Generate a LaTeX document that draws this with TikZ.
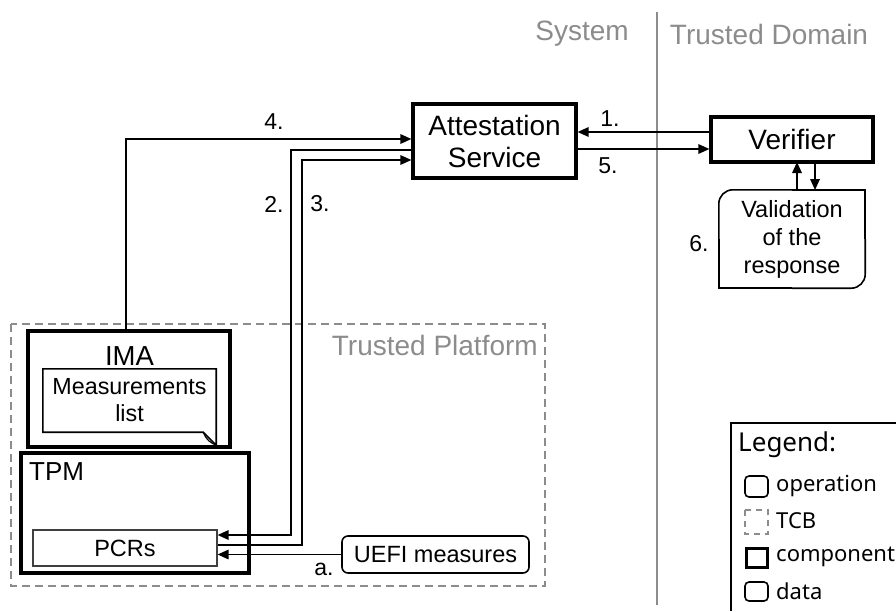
\documentclass[tikz,border=0pt]{standalone}
\usepackage{fontspec}
\setmainfont{Liberation Sans}
\newfontfamily\legendfont{Noto Sans}
\usetikzlibrary{arrows.meta,positioning}
\definecolor{dimgray}{HTML}{8C8C8C}
\tikzset{
  comp/.style={draw, line width=3.2pt, inner sep=0pt},
  thinbox/.style={draw, line width=1.6pt, inner sep=0pt},
  lbl/.style={font=\fontsize{23}{25}\selectfont, inner sep=0pt},
  flow/.style={line width=1.6pt, -{Triangle[length=11pt,width=9.5pt]}},
  region/.style={font=\fontsize{28}{30}\selectfont, text=dimgray, inner sep=0pt},
  edge/.style={line width=1.6pt},
}
\begin{document}
\begin{tikzpicture}[x=1pt,y=-1pt]
\useasboundingbox (0,0) rectangle (896,611);

% domain separator and headings
\draw[dimgray, line width=1.4pt] (657,12) -- (657,605);
\node[region] (sys) at (582,34) {System};
\node[region] (td) at (769,34) {Trusted Domain};

% trusted platform boundary
\draw[dimgray, line width=1.4pt, dash pattern=on 8pt off 5pt] (11,324) rectangle (545,586);
\node[region, anchor=north east] (tp) at (538,335) {Trusted Platform};

% attestation service
\node[comp, minimum width=163pt, minimum height=74pt, align=center,
      font=\fontsize{28}{32}\selectfont] (as) at (494.5,141) {Attestation\\Service};

% verifier
\node[comp, minimum width=162pt, minimum height=45pt,
      font=\fontsize{28}{30}\selectfont] (ver) at (792,139.5) {Verifier};

% validation of the response: rounded top-left and bottom-right corners
\node[minimum width=146pt, minimum height=98pt, inner sep=0pt, align=center,
      font=\fontsize{23.5}{28}\selectfont] (val) at (792,239) {Validation\\of the\\response};
\draw[edge, rounded corners=14pt] (val.west) -- (val.north west) -- (val.north);
\draw[edge] (val.north) -- (val.north east) -- (val.east);
\draw[edge, rounded corners=14pt] (val.east) -- (val.south east) -- (val.south);
\draw[edge] (val.south) -- (val.south west) -- (val.west);
\node[lbl] (l6) at (699,244) {6.};

% IMA component with measurement list
\node[comp, minimum width=202pt, minimum height=116pt] (ima) at (129,389) {};
\node[font=\fontsize{27.5}{30}\selectfont, inner sep=0pt] (imat) at (129.5,356) {IMA};
\node[minimum width=173pt, minimum height=63pt, inner sep=0pt, align=center,
      font=\fontsize{23.3}{27}\selectfont] (ml) at (129.5,400.5) {Measurements\\list};
\draw[edge] (ml.north west) -- (ml.north east) -- ([yshift=-13pt]ml.south east)
  -- ([xshift=-13pt]ml.south east) -- (ml.south west) -- cycle;
\draw[line width=1.2pt] ([yshift=-13pt]ml.south east) .. controls ([xshift=-6pt,yshift=-10pt]ml.south east) and ([xshift=-9pt,yshift=-9pt]ml.south east) .. ([xshift=-13pt]ml.south east);

% TPM component
\node[comp, minimum width=228pt, minimum height=120pt] (tpm) at (135,513) {};
\node[font=\fontsize{26}{28}\selectfont, inner sep=0pt, anchor=west] (tpmt) at (29,472) {TPM};
\node[draw=black!75, line width=1.2pt, minimum width=184pt, minimum height=36pt, inner sep=0pt,
      font=\fontsize{23.5}{26}\selectfont] (pcr) at (125,548) {PCRs};

% UEFI measures
\node[thinbox, rounded corners=6pt, minimum width=187pt, minimum height=37pt,
      font=\fontsize{23.5}{26}\selectfont] (uefi) at (435.5,554.5) {UEFI measures};

% connectors
\draw[flow] (ver.west |- 0,132) -- (as.east |- 0,132);
\node[lbl] (l1) at (610,119) {1.};
\draw[flow] (as.east |- 0,149) -- (ver.west |- 0,149);
\node[lbl] (l5) at (608,166) {5.};

\draw[flow] (ima.north -| 126,0) -- (126,139) -- (as.west |- 0,139);
\node[lbl] (l4) at (274,122) {4.};

\draw[flow] (as.west |- 0,150) -- (291,150) -- (291,535) -- (pcr.east |- 0,535);
\draw[flow] (pcr.east |- 0,545) -- (302,545) -- (302,160) -- (as.west |- 0,160);
\node[lbl] (l2) at (274,204) {2.};
\node[lbl] (l3) at (320,204) {3.};

\draw[flow] (uefi.west) -- (pcr.east |- uefi.west);
\node[lbl] (la) at (324,569) {a.};

\draw[flow] (797,190) -- (797,162);
\draw[flow] (815,162) -- (815,190);

% legend
\draw[edge] (896,423) -- (731,423) -- (731,611);
\begin{scope}[legendfont/.style={font=\legendfont\fontsize{22}{24}\selectfont, anchor=west, inner sep=0pt}]
\node[font=\legendfont\fontsize{26}{28}\selectfont, anchor=west, inner sep=0pt] (lg) at (738,445) {Legend:};
\draw[edge, rounded corners=4pt] (745,476) rectangle (768,497);
\node[legendfont] (lop) at (776,486) {operation};
\draw[dimgray, line width=1.2pt, dash pattern=on 6pt off 5pt] (745,510) rectangle (768,534);
\node[legendfont] (ltcb) at (776,521) {TCB};
\draw[line width=3pt] (746,548) rectangle (767,567);
\node[legendfont] (lcomp) at (776,557) {component};
\draw[edge, rounded corners=4pt] (745,582) rectangle (768,601);
\node[legendfont] (ldata) at (776,591) {data};
\end{scope}
\end{tikzpicture}
\end{document}
